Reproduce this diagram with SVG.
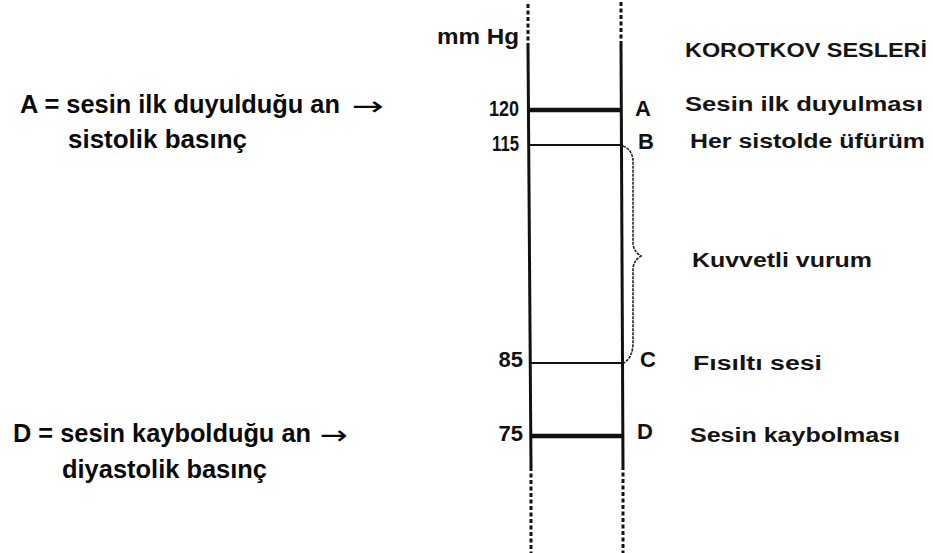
<svg xmlns="http://www.w3.org/2000/svg" width="933" height="553" viewBox="0 0 933 553">
  <style>
    .note { font-family: "Liberation Sans", Arial, sans-serif; font-weight: bold; font-size: 25px; fill: #0a0a0a; }
    .arrow { font-family: "DejaVu Sans", sans-serif; font-weight: normal; font-size: 26px; fill: #0a0a0a; }
    .num { font-family: "Liberation Sans", Arial, sans-serif; font-weight: bold; font-size: 22px; fill: #111; text-anchor: end; }
    .mark { font-family: "Liberation Sans", Arial, sans-serif; font-weight: bold; font-size: 22px; fill: #111; }
    .lbl { font-family: "Liberation Sans", Arial, sans-serif; font-weight: bold; font-size: 20px; fill: #141414; }
    .rail { stroke: #111; stroke-width: 3; fill: none; }
    .rail-dash { stroke: #111; stroke-width: 3; fill: none; stroke-dasharray: 4 2.5; }
    .level { stroke: #111; stroke-width: 2; }
    .level-bold { stroke: #111; stroke-width: 4.5; }
    .brace { stroke: #222; stroke-width: 1.6; fill: none; stroke-dasharray: 3 1; }
  </style>
  <rect width="933" height="553" fill="#fff"/>

  <!-- explanatory notes on the left -->
  <g id="note-systolic">
    <text class="note" x="20" y="113" textLength="320" lengthAdjust="spacingAndGlyphs">A = sesin ilk duyulduğu an</text>
    <text class="arrow" x="352" y="115" textLength="32" lengthAdjust="spacingAndGlyphs">→</text>
    <text class="note" x="68" y="148" textLength="179" lengthAdjust="spacingAndGlyphs">sistolik basınç</text>
  </g>
  <g id="note-diastolic">
    <text class="note" x="13" y="442" textLength="298" lengthAdjust="spacingAndGlyphs">D = sesin kaybolduğu an</text>
    <text class="arrow" x="320" y="444" textLength="28" lengthAdjust="spacingAndGlyphs">→</text>
    <text class="note" x="62" y="478" textLength="205" lengthAdjust="spacingAndGlyphs">diyastolik basınç</text>
  </g>

  <!-- pressure column -->
  <g id="scale">
    <text class="num" x="519" y="44" font-size="26" textLength="82" lengthAdjust="spacingAndGlyphs">mm Hg</text>
    <line class="rail-dash" x1="528" y1="4" x2="528" y2="47"/>
    <line class="rail-dash" x1="621" y1="2" x2="621" y2="45"/>
    <line class="rail" x1="528" y1="47" x2="531" y2="467"/>
    <line class="rail" x1="621" y1="45" x2="623" y2="466"/>
    <line class="rail-dash" x1="531" y1="467" x2="531" y2="553"/>
    <line class="rail-dash" x1="623" y1="466" x2="623" y2="553"/>
  </g>

  <g id="level-A">
    <line class="level-bold" x1="529" y1="110" x2="621" y2="110"/>
    <text class="num" x="519" y="116" textLength="30" lengthAdjust="spacingAndGlyphs">120</text>
    <text class="mark" x="635" y="116">A</text>
    <text class="lbl" x="685" y="111" textLength="238" lengthAdjust="spacingAndGlyphs">Sesin  ilk  duyulması</text>
  </g>
  <g id="level-B">
    <line class="level" x1="529" y1="145" x2="621" y2="145"/>
    <text class="num" x="519" y="151" textLength="27" lengthAdjust="spacingAndGlyphs">115</text>
    <text class="mark" x="638" y="149">B</text>
    <text class="lbl" x="690" y="148" textLength="235" lengthAdjust="spacingAndGlyphs">Her  sistolde  üfürüm</text>
  </g>
  <g id="level-C">
    <line class="level" x1="530" y1="363" x2="622" y2="363"/>
    <text class="num" x="523" y="367">85</text>
    <text class="mark" x="640" y="367">C</text>
    <text class="lbl" x="693" y="370" textLength="129" lengthAdjust="spacingAndGlyphs">Fısıltı  sesi</text>
  </g>
  <g id="level-D">
    <line class="level-bold" x1="531" y1="436" x2="622" y2="436"/>
    <text class="num" x="523" y="441">75</text>
    <text class="mark" x="637" y="439">D</text>
    <text class="lbl" x="690" y="442" textLength="210" lengthAdjust="spacingAndGlyphs">Sesin  kaybolması</text>
  </g>

  <g id="heading">
    <text class="lbl" x="685" y="57" font-size="18" textLength="242" lengthAdjust="spacingAndGlyphs">KOROTKOV   SESLERİ</text>
  </g>

  <!-- brace spanning B to C -->
  <g id="connectors">
    <path class="brace" d="M623 146 Q633 150 633 162 L633 244 Q634 252 641 256 Q634 260 633 268 L633 345 Q632 358 624 363"/>
  </g>
  <g id="range-label">
    <text class="lbl" x="692" y="267" textLength="180" lengthAdjust="spacingAndGlyphs">Kuvvetli  vurum</text>
  </g>
</svg>
